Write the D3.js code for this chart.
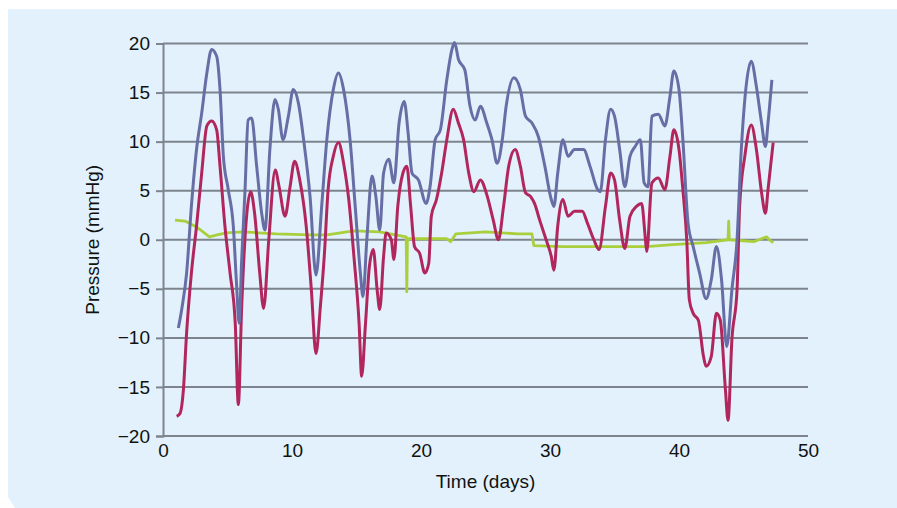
<!DOCTYPE html>
<html>
<head>
<meta charset="utf-8">
<script src="https://cdn.jsdelivr.net/npm/d3@7"></script>
<style>
  html, body { margin: 0; padding: 0; background: #ffffff; }
  svg { display: block; font-family: "Liberation Sans", Arial, sans-serif; }
</style>
</head>
<body>
<div id="chart"></div>
<script>
// blue trace
var blueDays = [1.19,1.45,1.83,2.2,2.6,3.0,3.4,3.77,4.16,4.42,4.68,5.06,5.45,5.7,5.9,6.1,6.36,6.6,6.87,7.26,7.65,7.9,8.3,8.68,8.94,9.3,9.72,10.1,10.5,10.9,11.4,11.86,12.3,12.7,13.2,13.6,14.0,14.5,14.9,15.3,15.5,15.8,16.2,16.5,16.8,17.1,17.5,17.9,18.3,18.7,19.0,19.3,19.8,20.4,20.7,21.1,21.5,22.0,22.4,22.6,22.9,23.4,23.8,24.2,24.6,25.1,25.5,25.9,26.3,26.6,27.2,27.7,28.1,28.6,29.1,29.6,30.1,30.3,30.6,31.0,31.4,31.9,32.6,33.1,33.7,33.9,34.3,34.7,35.0,35.4,35.8,36.2,36.6,37.0,37.3,37.6,37.9,38.4,38.9,39.3,39.6,40.0,40.3,40.7,41.1,41.6,42.1,42.5,42.9,43.3,43.7,44.1,44.5,44.8,45.2,45.6,46.0,46.4,46.7,46.9,47.2];
var bluePressure = [-9.0,-7.1,-3.4,3.4,9.2,12.9,17.0,19.4,18.7,15.3,8.5,5.1,1.4,-4.5,-8.5,-2,5.1,12.2,12.4,7.5,2.7,1.0,9.5,14.3,13.3,10.2,12.6,15.3,13.9,10.2,4.4,-3.6,3.4,10.2,15.3,17.0,15.3,10.2,3.4,-3.4,-5.8,0,6.5,4.4,1.0,6.8,8.2,5.8,11.9,14.1,10.9,6.8,6.1,3.7,5.4,10.2,11.2,16.3,19.4,20.1,18.4,17.3,13.6,12.2,13.6,11.9,10.2,7.8,10.2,13.6,16.5,15.3,12.6,11.9,10.5,7.5,4.1,3.4,6.8,10.2,8.5,9.2,9.2,7.5,5.1,4.9,10.2,13.3,12.6,9.2,5.4,8.5,9.5,10.2,5.8,5.4,12.6,12.8,11.6,14.6,17.2,15.3,10.2,1.7,-0.7,-3.4,-6.0,-4.1,-0.7,-4.1,-10.9,-5.1,0,8.5,15.6,18.2,15.6,11.9,9.5,11.9,16.3];

// red trace
var redDays = [1.06,1.32,1.58,1.83,2.2,2.6,3.0,3.4,3.77,4.16,4.42,4.8,5.2,5.6,5.84,6.1,6.5,6.8,7.1,7.5,7.8,8.2,8.7,9.0,9.46,9.85,10.2,10.6,11.1,11.5,11.86,12.2,12.5,12.8,13.2,13.6,14.0,14.4,14.8,15.2,15.4,15.7,16.0,16.3,16.6,16.8,17.1,17.3,17.7,17.9,18.2,18.6,18.9,19.2,19.5,19.9,20.3,20.6,20.8,21.2,21.6,22.0,22.5,22.9,23.3,23.7,24.1,24.6,25.1,25.6,26.0,26.4,26.8,27.3,27.7,28.1,28.5,28.8,29.2,29.7,30.1,30.3,30.6,31.0,31.4,31.9,32.5,32.9,33.4,33.8,34.3,34.7,35.0,35.4,35.8,36.2,36.7,37.1,37.4,37.5,37.9,38.4,38.9,39.3,39.6,40.0,40.3,40.6,40.8,41.1,41.5,41.9,42.1,42.5,42.9,43.2,43.6,43.8,44.1,44.5,44.7,45.1,45.6,46.0,46.4,46.7,46.9,47.3];
var redPressure = [-18.0,-17.7,-15.3,-9.5,-3.4,1.4,6.8,11.6,12.1,11.2,7.5,1.4,-3.4,-8.5,-16.8,-6.8,2.7,4.9,2.7,-3.4,-7.0,0,7.1,5.4,2.4,5.4,8.0,6.1,1.4,-5.1,-11.6,-6.8,-1.7,5.1,8.5,9.9,7.8,4.1,-1.7,-8.5,-13.9,-8.5,-2.7,-1.0,-5.1,-7.1,-1.7,0.7,0,-2.0,3.4,6.8,7.5,3.4,-0.7,-1.4,-3.4,-2.4,2.4,4.1,6.8,10.2,13.3,11.9,10.2,6.8,4.9,6.1,4.6,2.0,0,3.4,7.5,9.2,7.5,4.8,4.4,3.7,2.0,0,-1.7,-3.1,1.4,4.1,2.4,2.9,2.9,1.7,0,-1.0,3.4,6.8,6.1,2.0,-0.9,2.4,3.4,3.7,0,-1.2,5.8,6.3,5.1,8.5,11.2,9.2,5.1,0,-6.1,-7.5,-8.2,-11.9,-12.9,-11.9,-7.5,-8.2,-15.3,-18.4,-10.2,-5.1,3.4,8.5,11.7,9.2,4.8,2.7,5.1,9.9];

// green trace
var greenDays = [0.93,1.7,2.6,3.0,3.6,4.2,4.9,6.2,8.8,11.4,12.7,14.8,16.8,18.0,18.85,18.9,18.95,19.5,22.0,22.3,22.7,25.0,27.5,28.6,28.75,31.0,35.0,37.5,39.5,42.1,43.8,43.85,43.9,45.8,46.8,47.0,47.3];
var greenPressure = [2.0,1.9,1.3,0.9,0.3,0.5,0.7,0.8,0.6,0.5,0.5,0.9,0.8,0.5,0.3,-5.3,0.1,0.1,0.1,-0.2,0.6,0.8,0.6,0.6,-0.6,-0.7,-0.7,-0.7,-0.5,-0.3,0,1.9,0,-0.2,0.3,0,-0.3];

var xTicks = [0, 10, 20, 30, 40, 50];
var yTicks = [-20, -15, -10, -5, 0, 5, 10, 15, 20];

var W = 897, H = 508;
var margin = {top: 43.5, right: 89, bottom: 72, left: 163},
    width = W - margin.left - margin.right,
    height = H - margin.top - margin.bottom;

var root = d3.select("#chart")
  .append("svg")
  .attr("width", W)
  .attr("height", H);

// light blue panel with a clipped bottom-left corner
root.append("polygon")
  .attr("points", "8,9 897,9 897,508 15,508 8,497")
  .attr("fill", "#e2f1fb");

var svg = root.append("g")
  .attr("transform", "translate(" + margin.left + "," + margin.top + ")");

var x = d3.scaleLinear().domain([0, 50]).range([0, width]);
var y = d3.scaleLinear().domain([-20, 20]).range([height, 0]);

// horizontal grid
svg.selectAll(".grid")
  .data(yTicks)
  .enter()
  .append("line")
  .attr("x1", 0)
  .attr("x2", width)
  .attr("y1", function(d) { return y(d); })
  .attr("y2", function(d) { return y(d); })
  .attr("stroke", "#7d848d")
  .attr("stroke-width", 2);

// Y axis
var yAxis = svg.append("g")
  .call(d3.axisLeft(y).tickValues(yTicks).tickSize(7).tickPadding(6));
yAxis.select(".domain").attr("stroke", "#7d848d").attr("stroke-width", 2);
yAxis.selectAll(".tick line").attr("stroke", "#7d848d").attr("stroke-width", 2);
yAxis.selectAll("text")
  .attr("font-size", 19)
  .attr("fill", "#111")
  .style("font-family", "'Liberation Sans', Arial, sans-serif");

// X axis
var xAxis = svg.append("g")
  .attr("transform", "translate(0," + height + ")")
  .call(d3.axisBottom(x).tickValues(xTicks).tickSize(0).tickPadding(8));
xAxis.select(".domain").remove();
xAxis.selectAll("text")
  .attr("font-size", 19)
  .attr("fill", "#111")
  .style("font-family", "'Liberation Sans', Arial, sans-serif");

// axis titles
svg.append("text")
  .attr("x", width / 2)
  .attr("y", height + 52)
  .attr("text-anchor", "middle")
  .attr("font-size", 19)
  .attr("fill", "#111")
  .text("Time (days)");

svg.append("text")
  .attr("transform", "translate(" + (-64) + "," + y(0) + ") rotate(-90)")
  .attr("text-anchor", "middle")
  .attr("font-size", 19)
  .attr("fill", "#111")
  .text("Pressure (mmHg)");

// lines
var smooth = d3.line()
  .curve(d3.curveMonotoneX)
  .x(function(d) { return x(d[0]); })
  .y(function(d) { return y(d[1]); });

var straight = d3.line()
  .x(function(d) { return x(d[0]); })
  .y(function(d) { return y(d[1]); });

function pairs(days, vals) {
  return days.map(function(d, i) { return [d, vals[i]]; });
}

svg.append("path")
  .datum(pairs(greenDays, greenPressure))
  .attr("d", straight)
  .attr("fill", "none")
  .attr("stroke", "#a9d03c")
  .attr("stroke-width", 2.8)
  .attr("stroke-linejoin", "round");

svg.append("path")
  .datum(pairs(redDays, redPressure))
  .attr("d", smooth)
  .attr("fill", "none")
  .attr("stroke", "#b1265d")
  .attr("stroke-width", 3)
  .attr("stroke-linejoin", "round");

svg.append("path")
  .datum(pairs(blueDays, bluePressure))
  .attr("d", smooth)
  .attr("fill", "none")
  .attr("stroke", "#676ea6")
  .attr("stroke-width", 3)
  .attr("stroke-linejoin", "round");
</script>
</body>
</html>
